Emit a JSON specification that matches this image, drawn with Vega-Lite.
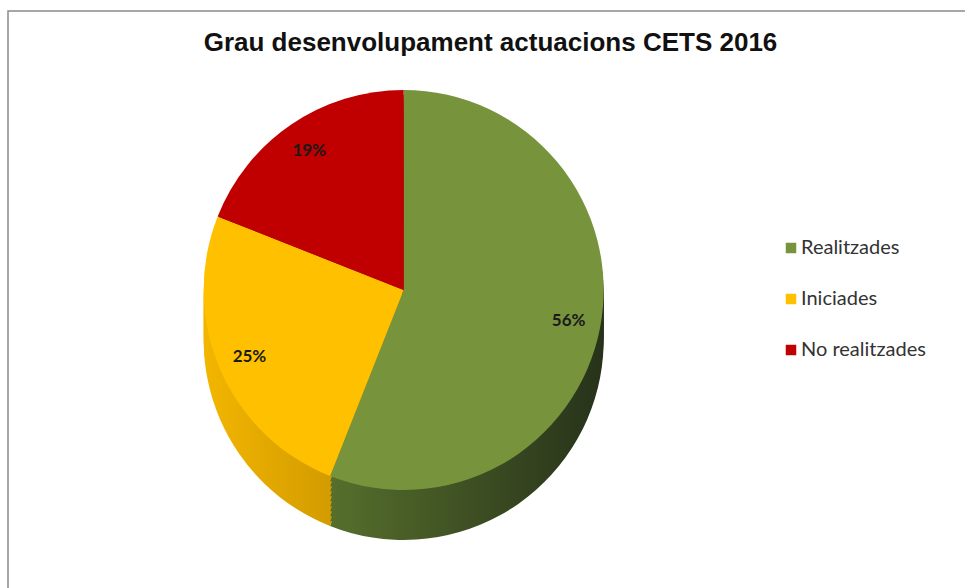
{
  "$schema": "https://vega.github.io/schema/vega-lite/v6.json",
  "autosize": "none",
  "width": 965,
  "height": 590,
  "padding": {"left": 8, "top": 11, "right": 0, "bottom": 0},
  "background": "white",
  "title": {
    "text": "Grau desenvolupament  actuacions CETS 2016",
    "font": "Liberation Sans",
    "fontSize": 26,
    "fontWeight": "bold",
    "color": "#111111",
    "anchor": "middle",
    "baseline": "alphabetic",
    "offset": -66
  },
  "config": {"view": {"stroke": "#8a8a8a", "strokeWidth": 1.5}},
  "data": {
    "values": [
      {"cat": "Realitzades", "pct": 56, "label": "56%", "ord": 1},
      {"cat": "Iniciades", "pct": 25, "label": "25%", "ord": 2},
      {"cat": "No realitzades", "pct": 19, "label": "19%", "ord": 3}
    ]
  },
  "encoding": {
    "theta": {"field": "pct", "type": "quantitative", "stack": true},
    "order": {"field": "ord", "type": "quantitative"},
    "x": {"datum": 0.41, "type": "quantitative", "scale": {"domain": [0, 1]}, "axis": null},
    "y": {"datum": 0.5271, "type": "quantitative", "scale": {"domain": [0, 1]}, "axis": null}
  },
  "layer": [
    {
      "encoding": {
        "color": {
          "condition": [
            {"test": "datum.cat === 'Realitzades'", "value": {"gradient": "linear", "x1": 0, "y1": 0, "x2": 1, "y2": 0, "stops": [{"offset": 0, "color": "#566f2c"}, {"offset": 1, "color": "#27321a"}]}},
            {"test": "datum.cat === 'Iniciades'", "value": {"gradient": "linear", "x1": 0, "y1": 0, "x2": 1, "y2": 0, "stops": [{"offset": 0, "color": "#f2b600"}, {"offset": 1, "color": "#c28c00"}]}}
          ],
          "value": "#8b0000"
        }
      },
      "layer": [
        {"mark": {"type": "arc", "outerRadius": 200}, "encoding": {"y": {"datum": 0.44237, "type": "quantitative"}}},
        {"mark": {"type": "arc", "outerRadius": 200}, "encoding": {"y": {"datum": 0.45085, "type": "quantitative"}}},
        {"mark": {"type": "arc", "outerRadius": 200}, "encoding": {"y": {"datum": 0.45932, "type": "quantitative"}}},
        {"mark": {"type": "arc", "outerRadius": 200}, "encoding": {"y": {"datum": 0.4678, "type": "quantitative"}}},
        {"mark": {"type": "arc", "outerRadius": 200}, "encoding": {"y": {"datum": 0.47627, "type": "quantitative"}}},
        {"mark": {"type": "arc", "outerRadius": 200}, "encoding": {"y": {"datum": 0.48475, "type": "quantitative"}}},
        {"mark": {"type": "arc", "outerRadius": 200}, "encoding": {"y": {"datum": 0.49322, "type": "quantitative"}}},
        {"mark": {"type": "arc", "outerRadius": 200}, "encoding": {"y": {"datum": 0.50169, "type": "quantitative"}}},
        {"mark": {"type": "arc", "outerRadius": 200}, "encoding": {"y": {"datum": 0.51017, "type": "quantitative"}}},
        {"mark": {"type": "arc", "outerRadius": 200}, "encoding": {"y": {"datum": 0.51864, "type": "quantitative"}}}
      ]
    },
    {
      "mark": {"type": "arc", "outerRadius": 200},
      "encoding": {
        "color": {
          "field": "cat",
          "type": "nominal",
          "scale": {"domain": ["Realitzades", "Iniciades", "No realitzades"], "range": ["#77933c", "#ffc000", "#c00000"]},
          "legend": {
            "title": null,
            "orient": "none",
            "legendX": 773,
            "legendY": 227,
            "symbolType": "square",
            "symbolSize": 110,
            "symbolStrokeWidth": 0,
            "labelFont": "Lato",
            "labelFontSize": 20,
            "labelColor": "#333333",
            "labelLimit": 300,
            "labelOffset": 0,
            "rowPadding": 31
          }
        }
      }
    },
    {
      "mark": {"type": "text", "radius": 168, "font": "Lato", "fontSize": 17, "fontWeight": "bold", "color": "#1a1a1a"},
      "encoding": {
        "text": {"field": "label", "type": "nominal"}
      }
    }
  ]
}
